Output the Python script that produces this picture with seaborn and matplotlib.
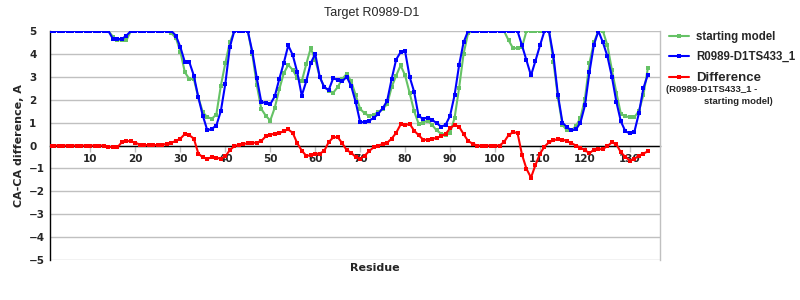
import matplotlib
matplotlib.use("Agg")
import matplotlib.pyplot as plt
import numpy as np
import pandas as pd
import seaborn as sns

# ---------------- data ----------------
residues = list(range(1, 135))

starting_model = [
    5, 5, 5, 5, 5, 5, 5, 5, 5, 5,
    5, 5, 5, 5, 4.75, 4.6, 4.6, 4.6, 5, 5,
    5, 5, 5, 5, 5, 5, 5, 4.9, 4.7, 4.1,
    3.2, 2.9, 2.9, 2.1, 1.45, 1.24, 1.17, 1.35, 2.6, 3.6,
    4.5, 5, 5, 5, 5, 4.0, 2.65, 1.6, 1.3, 1.09,
    1.65, 2.45, 3.15, 3.52, 3.3, 2.95, 2.8, 3.55, 4.25, 3.75,
    3.0, 2.55, 2.4, 2.3, 2.55, 2.9, 3.13, 2.8, 2.2, 1.6,
    1.4, 1.29, 1.35, 1.45, 1.6, 1.8, 2.55, 3.05, 3.5, 3.06,
    2.3, 1.5, 0.95, 1.0, 1.09, 0.9, 0.66, 0.52, 0.48, 0.55,
    1.2, 2.5, 4.0, 4.9, 5, 5, 5, 5, 5, 5,
    5, 5, 4.6, 4.25, 4.25, 4.3, 5, 5, 5, 5,
    5, 5, 3.64, 2.1, 0.9, 0.66, 0.66, 0.85, 1.2, 2.04,
    3.6, 4.5, 5, 5, 4.37, 3.3, 2.3, 1.38, 1.27, 1.24,
    1.24, 1.5, 2.2, 3.38,
]

model_ts433 = [
    5, 5, 5, 5, 5, 5, 5, 5, 5, 5,
    5, 5, 5, 5, 4.65, 4.65, 4.65, 4.8, 5, 5,
    5, 5, 5, 5, 5, 5, 5, 5, 4.8, 4.3,
    3.64, 3.64, 3.05, 2.1, 1.3, 0.66, 0.73, 0.87, 1.5, 2.69,
    4.3, 5, 5, 5, 5, 4.1, 2.95, 1.9, 1.86, 1.8,
    2.15, 2.9, 3.6, 4.37, 3.95, 3.2, 2.18, 2.8, 3.6, 4.0,
    3.0, 2.55, 2.42, 2.94, 2.86, 2.8, 3.0, 2.6, 1.9, 1.02,
    1.02, 1.09, 1.2, 1.38, 1.62, 1.95, 2.9, 3.75, 4.08, 4.11,
    3.0, 2.35, 1.28, 1.17, 1.22, 1.12, 0.98, 0.82, 0.9, 1.3,
    2.2, 3.5, 4.5, 5, 5, 5, 5, 5, 5, 5,
    5, 5, 5, 5, 5, 4.37, 3.72, 3.06, 3.7, 4.37,
    5, 5, 3.9, 2.2, 1.0, 0.8, 0.66, 0.7, 1.0, 1.75,
    3.2, 4.4, 5, 4.5, 3.9, 3.0, 1.9, 1.05, 0.62, 0.53,
    0.6, 1.4, 2.5, 3.09,
]

difference = [
    0, 0, 0, 0, 0, 0, 0, 0, 0, 0,
    0, 0, 0, -0.05, -0.08, -0.08, 0.15, 0.2, 0.18, 0.12,
    0.04, 0.02, 0.02, 0.02, 0.02, 0.03, 0.08, 0.12, 0.2, 0.3,
    0.5, 0.45, 0.3, -0.35, -0.52, -0.58, -0.51, -0.54, -0.57, -0.48,
    -0.2, -0.03, 0.03, 0.07, 0.09, 0.11, 0.13, 0.2, 0.4, 0.48,
    0.51, 0.54, 0.63, 0.7, 0.55, 0.1, -0.22, -0.45, -0.43, -0.36,
    -0.35, -0.24, 0.15, 0.35, 0.37, 0.1, -0.2, -0.32, -0.5, -0.57,
    -0.45, -0.24, -0.08, 0.0, 0.06, 0.12, 0.3, 0.55, 0.92, 0.88,
    0.95, 0.65, 0.45, 0.26, 0.24, 0.28, 0.34, 0.4, 0.5, 0.75,
    0.9, 0.82, 0.5, 0.2, 0.08, 0, 0, 0, 0, 0,
    0, 0.15, 0.45, 0.58, 0.55, -0.4, -1.02, -1.4, -0.85, -0.36,
    -0.05, 0.14, 0.22, 0.29, 0.26, 0.19, 0.1, 0.0, -0.1, -0.2,
    -0.34, -0.18, -0.17, -0.15, -0.03, 0.14, 0.05, -0.3, -0.5, -0.66,
    -0.58, -0.45, -0.35, -0.26,
]

x_ticks = [10, 20, 30, 40, 50, 60, 70, 80, 90, 100, 110, 120, 130]
y_ticks = [-5, -4, -3, -2, -1, 0, 1, 2, 3, 4, 5]

series_names = ["starting model", "R0989-D1TS433_1", "Difference"]
series_colors = ["#66c266", "#0000ff", "#ff0000"]

# ---------------- plot ----------------
sns.set_theme(style="white")
plt.rcParams['font.family'] = ['Liberation Sans', 'DejaVu Sans']

df = pd.DataFrame({
    "Residue": residues,
    series_names[0]: starting_model,
    series_names[1]: model_ts433,
    series_names[2]: difference,
})

fig = plt.figure(figsize=(8, 3), dpi=100)
ax = fig.add_axes([50 / 800, 40 / 300, 610 / 800, 229 / 300])

for name, col in zip(series_names, series_colors):
    sns.lineplot(data=df, x="Residue", y=name, ax=ax, color=col,
                 linewidth=1.5, marker="s", markersize=2.4,
                 markeredgewidth=0, label=name, legend=False, zorder=3)

ax.set_xlim(1, 136.7)
ax.set_ylim(-5, 5)

# grid
ax.set_yticks(y_ticks)
ax.yaxis.grid(True, color="#c0c0c0", linewidth=1)
ax.xaxis.grid(False)

# spines
ax.spines['bottom'].set_position(('data', 0))
ax.spines['bottom'].set_color('black')
ax.spines['bottom'].set_linewidth(1)
ax.spines['bottom'].set_zorder(2)
ax.spines['left'].set_color('black')
ax.spines['left'].set_linewidth(1)
ax.spines['top'].set_visible(False)
ax.spines['right'].set_color('#c0c0c0')
ax.spines['right'].set_linewidth(1)

ax.set_xticks(x_ticks)
ax.set_xticklabels([str(t) for t in x_ticks], fontfamily='DejaVu Sans',
                   fontweight='bold', fontsize=7.5)
ax.tick_params(axis='x', direction='out', length=4, color='#c0c0c0',
               width=1, pad=2, bottom=True)
ax.set_yticklabels([f"\u2212{abs(t)}" if t < 0 else str(t) for t in y_ticks],
                   fontfamily='DejaVu Sans', fontweight='bold', fontsize=7.5)
ax.tick_params(axis='y', length=0, pad=15)
for lab in ax.get_yticklabels():
    lab.set_horizontalalignment('left')

ax.set_xlabel("")
ax.set_ylabel("CA-CA difference, A", fontfamily='DejaVu Sans',
              fontweight='bold', fontsize=8, labelpad=6)
ax.yaxis.set_label_coords(-0.043, 0.5)

fig.text(375 / 800, 1 - 268 / 300, "Residue", ha='center', va='center',
         fontfamily='DejaVu Sans', fontweight='bold', fontsize=8)
fig.text(372 / 800, 1 - 13 / 300, "Target R0989-D1", ha='center', va='center',
         fontsize=9)

# legend
handles = [plt.Line2D([], [], color=c, linewidth=1.5, marker="s",
                      markersize=2.4, markeredgewidth=0)
           for c in series_colors]
leg = fig.legend(handles, series_names, loc='upper left',
                 bbox_to_anchor=(664 / 800, 1 - 26 / 300), frameon=False,
                 prop={'family': 'Liberation Sans', 'weight': 'bold', 'size': 8.3},
                 handlelength=1.8, handletextpad=0.6, labelspacing=0.75,
                 borderaxespad=0)
leg.get_texts()[2].set_fontsize(9.5)
fig.text(666 / 800, 1 - 90 / 300, "(R0989-D1TS433_1 -", ha='left', va='center',
         fontweight='bold', fontsize=6.8)
fig.text(704 / 800, 1 - 101 / 300, "starting model)", ha='left', va='center',
         fontweight='bold', fontsize=6.8)

fig.savefig("out.png", dpi=100)
